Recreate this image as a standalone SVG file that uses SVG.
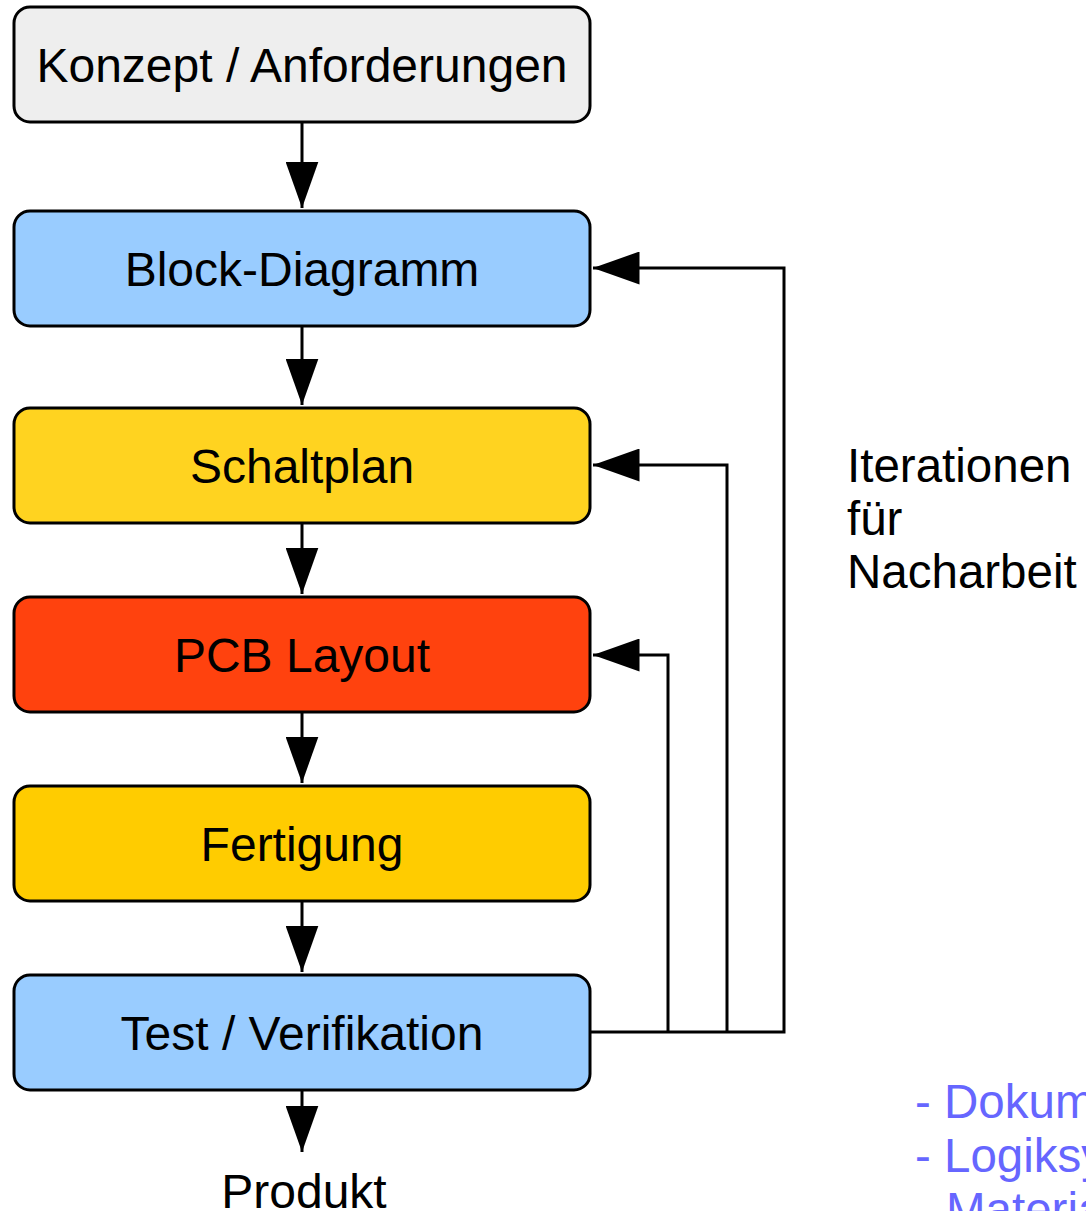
<svg xmlns="http://www.w3.org/2000/svg" width="1086" height="1211" viewBox="0 0 1086 1211">
<defs>
<style>
.box{stroke:#000;stroke-width:3}
.lbl{font-family:"Liberation Sans",Arial,sans-serif;font-size:48px;fill:#000;text-anchor:middle}
.txt{font-family:"Liberation Sans",Arial,sans-serif;font-size:47.5px;fill:#000}
.blue{font-family:"Liberation Sans",Arial,sans-serif;font-size:47.5px;fill:#6666ff}
.con{fill:none;stroke:#000;stroke-width:3}
</style>
<marker id="ah" markerWidth="16" markerHeight="11" refX="15.5" refY="5.5" orient="auto" markerUnits="strokeWidth">
<path d="M0,0 L15.5,5.5 L0,11 Z" fill="#000"/>
</marker>
</defs>
<rect width="1086" height="1211" fill="#fff"/>
<g id="connectors">
<line class="con" x1="302" y1="122" x2="302" y2="208" marker-end="url(#ah)"/>
<line class="con" x1="302" y1="326" x2="302" y2="405" marker-end="url(#ah)"/>
<line class="con" x1="302" y1="523" x2="302" y2="594" marker-end="url(#ah)"/>
<line class="con" x1="302" y1="712" x2="302" y2="783" marker-end="url(#ah)"/>
<line class="con" x1="302" y1="901" x2="302" y2="972" marker-end="url(#ah)"/>
<line class="con" x1="302" y1="1090" x2="302" y2="1152" marker-end="url(#ah)"/>
<polyline class="con" points="590,1032 784,1032 784,268 593,268" marker-end="url(#ah)"/>
<polyline class="con" points="727,1032 727,465 593,465" marker-end="url(#ah)"/>
<polyline class="con" points="668,1032 668,655 593,655" marker-end="url(#ah)"/>
</g>
<g id="konzept">
<rect class="box" x="14" y="7" width="576" height="115" rx="16" fill="#eeeeee"/>
<text class="lbl" x="302" y="82">Konzept / Anforderungen</text>
</g>
<g id="block">
<rect class="box" x="14" y="211" width="576" height="115" rx="16" fill="#99ccff"/>
<text class="lbl" x="302" y="286">Block-Diagramm</text>
</g>
<g id="schaltplan">
<rect class="box" x="14" y="408" width="576" height="115" rx="16" fill="#ffd320"/>
<text class="lbl" x="302" y="483">Schaltplan</text>
</g>
<g id="pcb">
<rect class="box" x="14" y="597" width="576" height="115" rx="16" fill="#ff420e"/>
<text class="lbl" x="302" y="672">PCB Layout</text>
</g>
<g id="fertigung">
<rect class="box" x="14" y="786" width="576" height="115" rx="16" fill="#ffcc00"/>
<text class="lbl" x="302" y="861">Fertigung</text>
</g>
<g id="test">
<rect class="box" x="14" y="975" width="576" height="115" rx="16" fill="#99ccff"/>
<text class="lbl" x="302" y="1050">Test / Verifikation</text>
</g>
<g id="produkt">
<text class="lbl" x="304" y="1208">Produkt</text>
</g>
<g id="iterationen">
<text class="txt" x="847" y="482">Iterationen</text>
<text class="txt" x="847" y="535">für</text>
<text class="txt" x="847" y="588">Nacharbeit</text>
</g>
<g id="notes">
<text class="blue" x="915" y="1118">- Dokumentation</text>
<text class="blue" x="915" y="1172">- Logiksymbole,</text>
<text class="blue" x="946" y="1226">Materialliste</text>
</g>
</svg>
